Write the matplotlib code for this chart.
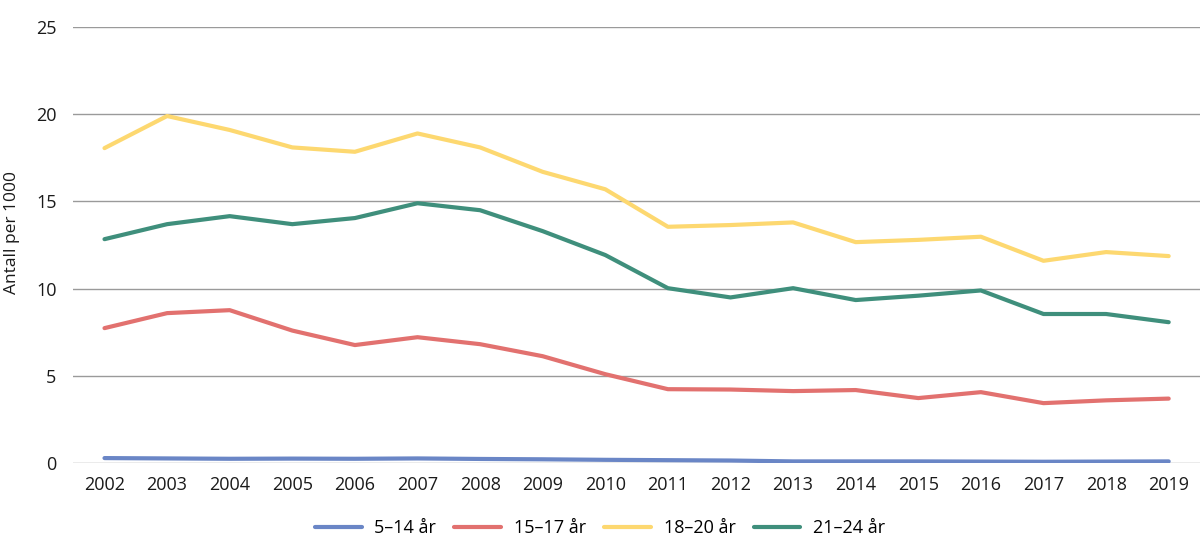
import matplotlib
matplotlib.use("Agg")
import matplotlib.pyplot as plt

years = list(range(2002, 2020))
labels = ["5–14 år", "15–17 år", "18–20 år", "21–24 år"]
v_5_14 = [0.29, 0.27, 0.25, 0.26, 0.25, 0.27, 0.24, 0.22, 0.19, 0.17, 0.15, 0.10, 0.10, 0.10, 0.09, 0.08, 0.09, 0.10]
v_15_17 = [7.74, 8.6, 8.77, 7.6, 6.77, 7.22, 6.82, 6.13, 5.1, 4.24, 4.22, 4.13, 4.19, 3.73, 4.07, 3.44, 3.6, 3.7]
v_18_20 = [18.06, 19.9, 19.1, 18.1, 17.85, 18.9, 18.1, 16.7, 15.7, 13.55, 13.65, 13.8, 12.67, 12.8, 12.98, 11.6, 12.1, 11.87]
v_21_24 = [12.84, 13.7, 14.16, 13.7, 14.05, 14.9, 14.5, 13.3, 11.93, 10.03, 9.5, 10.03, 9.35, 9.6, 9.9, 8.55, 8.55, 8.08]
colors = ["#6a86c6", "#e2716f", "#fdd870", "#3f8f7c"]

plt.rcParams['font.family'] = ['Open Sans', 'DejaVu Sans']

fig = plt.figure(figsize=(12, 5.58), dpi=100)
ax = fig.add_axes([0.061, 0.170, 0.939, 0.7815])

for vals, lab, c in zip([v_5_14, v_15_17, v_18_20, v_21_24], labels, colors):
    ax.plot(years, vals, color=c, lw=3.0, label=lab, solid_capstyle='round', solid_joinstyle='round', zorder=3)

ax.set_xlim(2001.5, 2019.5)
ax.set_ylim(0, 25)
ax.set_yticks([0, 5, 10, 15, 20, 25])
ax.set_xticks(years)
ax.grid(axis='y', color='#9a9a9a', lw=1.0, zorder=0)
ax.set_axisbelow(True)
for s in ax.spines.values():
    s.set_visible(False)
ax.tick_params(axis='both', length=0, labelsize=13, colors='#1a1a1a')
ax.tick_params(axis='y', pad=12)
ax.tick_params(axis='x', pad=9)
ax.set_ylabel("Antall per 1000", fontsize=12.5, color='#1a1a1a')
ax.yaxis.set_label_coords(-0.047, 0.53)

fig.legend(loc='center', bbox_to_anchor=(0.5, 0.053), ncol=4, frameon=False,
           fontsize=13, handlelength=2.6, handletextpad=0.7, columnspacing=1.0)

fig.savefig("out.png", dpi=100)
